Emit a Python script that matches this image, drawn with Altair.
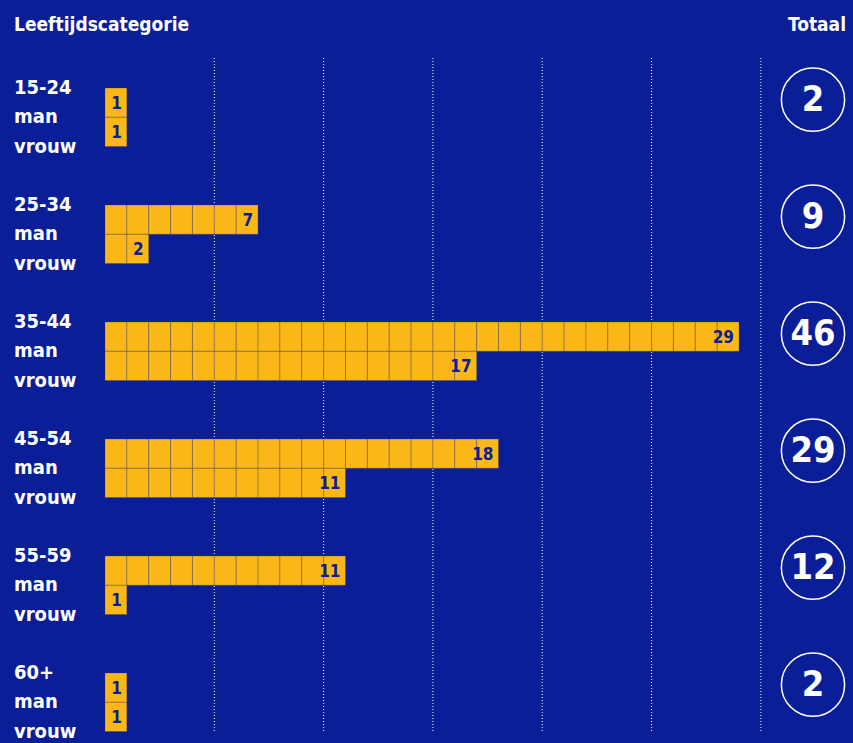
import altair as alt
import pandas as pd

categories = ["15-24", "25-34", "35-44", "45-54", "55-59", "60+"]
man = [1, 7, 29, 18, 11, 1]
vrouw = [1, 2, 17, 11, 1, 1]
totals = [2, 9, 46, 29, 12, 2]
grid_ticks = [5, 10, 15, 20, 25, 30]

BG = "#0a1e98"
YELLOW = "#fbb717"
FONT = "'DejaVu Sans Condensed', 'Roboto Condensed', Roboto, sans-serif"

cells, ends, labels, circ = [], [], [], []
for i, cat in enumerate(categories):
    for j, (sex, vals) in enumerate([("man", man), ("vrouw", vrouw)]):
        n = vals[i]
        row = 4 * i + j
        for k in range(n):
            cells.append({"x": k, "x2": k + 1, "r": row, "r2": row + 1})
        ends.append({"x": n, "r": row + 0.55, "v": str(n)})
    labels.append({"t": cat, "r": 4 * i})
    labels.append({"t": "man", "r": 4 * i + 1})
    labels.append({"t": "vrouw", "r": 4 * i + 2})
    circ.append({"r": 4 * i + 0.4, "v": str(totals[i])})

xs = alt.Scale(domain=[-4.803, 34.214], nice=False, zero=False)
ys = alt.Scale(domain=[-3.009, 22.393], nice=False, zero=False, reverse=True)

grid = alt.Chart(pd.DataFrame({"g": grid_ticks})).mark_rule(
    color="white", strokeDash=[1, 2], strokeWidth=1
).encode(x=alt.X("g:Q", scale=xs, axis=None), y=alt.value(58), y2=alt.value(733))

bars = alt.Chart(pd.DataFrame(cells)).mark_rect(
    color=YELLOW, stroke="#3a3a6a", strokeOpacity=0.3, strokeWidth=1
).encode(
    x=alt.X("x:Q", scale=xs, axis=None), x2="x2:Q",
    y=alt.Y("r:Q", scale=ys, axis=None), y2="r2:Q",
)

endtext = alt.Chart(pd.DataFrame(ends)).mark_text(
    align="right", baseline="middle", dx=-5, font=FONT, fontWeight="bold",
    fontSize=17, color=BG
).encode(x=alt.X("x:Q", scale=xs), y=alt.Y("r:Q", scale=ys), text="v:N")

rowlabels = alt.Chart(pd.DataFrame(labels)).mark_text(
    align="left", baseline="middle", font=FONT, fontWeight="bold",
    fontSize=20, color="white"
).encode(x=alt.value(14), y=alt.Y("r:Q", scale=ys), text="t:N")

circles = alt.Chart(pd.DataFrame(circ)).mark_point(
    shape="circle", size=4000, stroke="white", strokeWidth=1.5, filled=False, opacity=1
).encode(x=alt.value(813), y=alt.Y("r:Q", scale=ys))

circtext = alt.Chart(pd.DataFrame(circ)).mark_text(
    align="center", baseline="middle", font=FONT, fontWeight="bold",
    fontSize=36, color="white"
).encode(x=alt.value(813), y=alt.Y("r:Q", scale=ys), text="v:N")

header = alt.Chart(pd.DataFrame({"t": ["Leeftijdscategorie"]})).mark_text(
    align="left", baseline="middle", font=FONT, fontWeight="bold",
    fontSize=19, color="white"
).encode(x=alt.value(14), y=alt.value(25), text="t:N")

header2 = alt.Chart(pd.DataFrame({"t": ["Totaal"]})).mark_text(
    align="right", baseline="middle", font=FONT, fontWeight="bold",
    fontSize=19, color="white"
).encode(x=alt.value(846), y=alt.value(25), text="t:N")

chart = alt.layer(grid, bars, endtext, rowlabels, circles, circtext, header, header2).properties(
    width=853, height=743, padding=0, autosize=alt.AutoSizeParams(type="none"),
    background=BG
).configure_view(stroke=None, fill=BG)

chart.save("out.html", embed_options={"renderer": "svg", "actions": False})
